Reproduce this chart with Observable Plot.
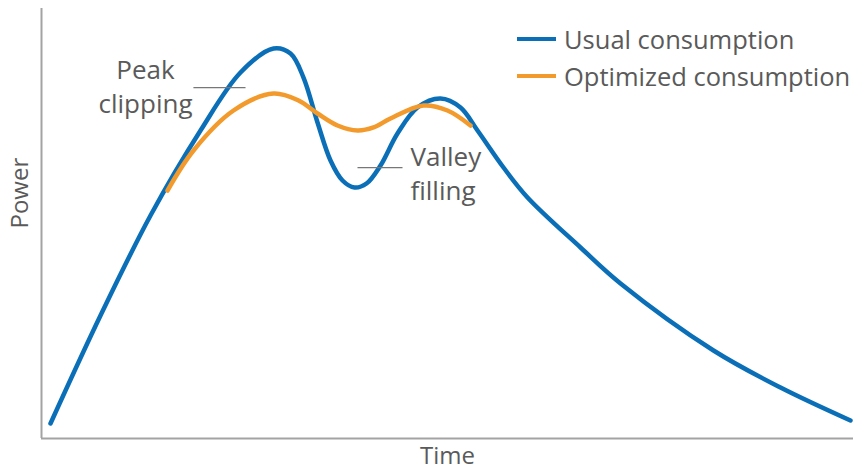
<!DOCTYPE html>
<html>
<head>
<meta charset="utf-8">
<script src="https://cdn.jsdelivr.net/npm/d3@7"></script>
<script src="https://cdn.jsdelivr.net/npm/@observablehq/plot@0.6"></script>
<style>
  html, body { margin: 0; padding: 0; background: #fff; }
  #wrap { position: relative; width: 853px; height: 472px; font-family: "Open Sans", sans-serif; }
  .legend { position: absolute; left: 517px; font-size: 25.5px; color: #5a5a5a; display: flex; align-items: center; white-space: nowrap; }
  .legend .sw { display: inline-block; width: 39px; height: 4.5px; margin-right: 8px; }
</style>
</head>
<body>
<div id="wrap"></div>
<script>
// Time (hours) and power (% of max)
const usualTime  = [0.266, 1.744, 3.222, 4.700, 5.882, 6.857, 7.360, 7.744, 8.158, 8.542, 8.897, 9.251, 9.606, 10.020, 10.522, 11.113, 11.793, 12.384, 12.887, 13.655, 14.365, 15.931, 17.114, 19.862, 21.842, 23.911];
const usualPower = [3.49, 28.60, 51.86, 71.63, 85.12, 90.70, 89.53, 83.95, 73.49, 64.65, 60.00, 58.37, 59.30, 63.49, 70.93, 76.98, 79.07, 76.98, 71.63, 63.02, 56.05, 44.42, 36.05, 20.47, 11.86, 4.19];

const optTime  = [3.724, 4.493, 5.675, 6.857, 7.596, 8.158, 8.749, 9.340, 9.813, 10.315, 11.291, 11.999, 12.680];
const optPower = [57.67, 66.98, 76.28, 80.23, 78.60, 75.58, 72.79, 71.63, 72.33, 74.42, 77.44, 76.28, 72.79];

const seriesNames  = ["Usual consumption", "Optimized consumption"];
const seriesColors = ["#0b6fb8", "#f39a2c"];

// annotations
const noteText       = ["Peak\nclipping", "Valley\nfilling"];
const noteTime       = [3.074, 10.906];
const notePower      = [89.2, 68.9];
const noteAnchor     = ["middle", "start"];
const noteLineHeight = [1.31, 1.31];

const leaderT1 = [4.49, 9.34];
const leaderT2 = [6.03, 10.67];
const leaderP  = [81.6, 63.0];

const usual = usualTime.map((t, i) => ({t, p: usualPower[i]}));
const opt = optTime.map((t, i) => ({t, p: optPower[i]}));
const notes = noteText.map((s, i) => ({s, t: noteTime[i], p: notePower[i], a: noteAnchor[i], lh: noteLineHeight[i]}));
const leaders = leaderP.map((p, i) => ({t1: leaderT1[i], t2: leaderT2[i], p}));

const textColor = "#5a5a5a";
const fontSize = 26;

const chart = Plot.plot({
  width: 853,
  height: 472,
  marginLeft: 41,
  marginRight: 0,
  marginTop: 8,
  marginBottom: 34,
  style: {fontFamily: "'Open Sans', sans-serif", background: "white"},
  x: {domain: [0, 24], axis: null},
  y: {domain: [0, 100], axis: null},
  marks: [
    Plot.ruleX([0], {stroke: "#a3a3a3", strokeWidth: 2}),
    Plot.ruleY([0], {stroke: "#a3a3a3", strokeWidth: 2}),
    Plot.text(["Time"], {frameAnchor: "bottom", dy: 25, fontSize: 24, fill: textColor}),
    Plot.text(["Power"], {frameAnchor: "left", rotate: -90, dx: -21, dy: 5, fontSize: 24, fill: textColor}),
    Plot.line(usual, {x: "t", y: "p", stroke: seriesColors[0], strokeWidth: 4.5, curve: "catmull-rom"}),
    Plot.line(opt, {x: "t", y: "p", stroke: seriesColors[1], strokeWidth: 4.5, curve: "catmull-rom"}),
    Plot.link(leaders, {x1: "t1", x2: "t2", y1: "p", y2: "p", stroke: "#777", strokeWidth: 1.2}),
    ...notes.map(d => Plot.text([d], {x: "t", y: "p", text: "s", textAnchor: d.a, lineAnchor: "top", lineHeight: d.lh, fontSize, fill: textColor}))
  ]
});

const wrap = document.getElementById("wrap");
wrap.appendChild(chart);

const legendTops = [22, 59];
seriesNames.forEach((name, i) => {
  const row = document.createElement("div");
  row.className = "legend";
  row.style.top = legendTops[i] + "px";
  const sw = document.createElement("span");
  sw.className = "sw";
  sw.style.background = seriesColors[i];
  row.appendChild(sw);
  row.appendChild(document.createTextNode(name));
  wrap.appendChild(row);
});
</script>
</body>
</html>
